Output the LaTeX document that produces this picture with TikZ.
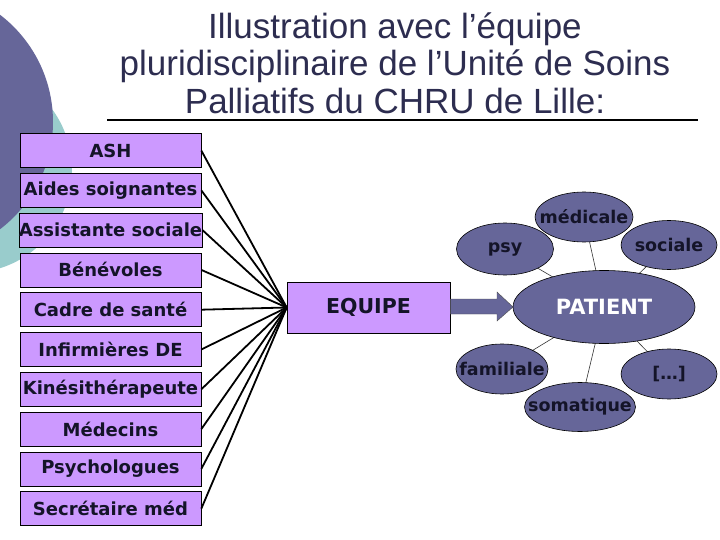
\documentclass[tikz,border=0pt]{standalone}
\usepackage{fontspec}
\setmainfont{Liberation Sans}
\newfontfamily\boxfont{DejaVu Sans}
\usetikzlibrary{shapes.geometric,backgrounds}
\definecolor{slate}{RGB}{102,102,153}
\definecolor{teal2}{RGB}{153,204,204}
\definecolor{lilac}{RGB}{204,153,255}
\definecolor{titlecol}{RGB}{45,45,80}
\definecolor{ink}{RGB}{20,20,40}
\newcommand{\zw}[1]{\makebox[0pt]{#1}}
\tikzset{
  rolebox/.style={draw=black, line width=0.6pt, fill=lilac, minimum width=181pt, minimum height=34pt, inner sep=0pt,
    font=\boxfont\bfseries\fontsize{18}{21}\selectfont, text=ink},
  link/.style={draw=black, line width=1.8pt},
  sat/.style={ellipse, draw=black, line width=0.6pt, fill=slate, inner sep=0pt,
    font=\boxfont\bfseries\fontsize{17.5}{20}\selectfont, text=ink},
  spoke/.style={draw=black!80, line width=0.6pt},
  titletext/.style={font=\fontsize{35}{37.5}\selectfont, text=titlecol, align=center}
}
\begin{document}
\begin{tikzpicture}[x=1pt,y=-1pt]
\useasboundingbox (0,0) rectangle (720,540);
\begin{scope}[on background layer]
\fill[white] (0,0) rectangle (720,540);
\end{scope}
% background circles
\fill[teal2] (-31,170) circle (103);
\fill[slate] (-82,122) circle (135);
% title
\node[titletext] (title) at (395,63) {Illustration avec l’équipe\\pluridisciplinaire de l’Unité de Soins\\Palliatifs du CHRU de Lille:};
\coordinate (ul1) at (107,120);
\coordinate (ul2) at (698,120);
\draw[line width=1.8pt] (ul1) -- (ul2);
% role boxes
\node[rolebox] (b1) at (110.5,150.5) {ASH};
\node[rolebox] (b2) at (110.5,190.3) {Aides soignantes};
\node[rolebox] (b3) at (110.5,230.1) {Assistante sociale};
\node[rolebox] (b4) at (110.5,269.9) {Bénévoles};
\node[rolebox] (b5) at (110.5,309.7) {Cadre de santé};
\node[rolebox] (b6) at (110.5,349.5) {Infirmières DE};
\node[rolebox] (b7) at (110.5,389.3) {Kinésithérapeute};
\node[rolebox] (b8) at (110.5,429.1) {Médecins};
\node[rolebox] (b9) at (110.5,468.9) {Psychologues};
\node[rolebox] (b10) at (110.5,508.7) {Secrétaire méd};
% equipe
\node[rolebox, minimum width=163pt, minimum height=51pt, font=\boxfont\bfseries\fontsize{20.5}{24}\selectfont] (eq) at (368.5,307.5) {EQUIPE};
\foreach \i in {1,...,10} { \draw[link] (b\i.east) -- (eq.west); }
% arrow
\fill[slate, draw=black!70, line width=0.4pt] (eq.east |- 0,299) -- (497,299) -- (497,292) -- (513,307) -- (497,321) -- (497,314) -- (eq.east |- 0,314) -- cycle;
% patient and satellites
\node[sat, minimum width=182pt, minimum height=73pt, text=white, font=\boxfont\bfseries\fontsize{21}{24}\selectfont] (pat) at (604,307) {\zw{PATIENT}};
\node[sat, minimum width=98pt, minimum height=50pt] (med) at (584,217) {\zw{médicale}};
\node[sat, minimum width=97pt, minimum height=52pt] (psy) at (505,249) {\zw{psy}};
\node[sat, minimum width=96pt, minimum height=49pt] (soc) at (669,245) {\zw{sociale}};
\node[sat, minimum width=92pt, minimum height=50pt] (fam) at (502,369) {\zw{familiale}};
\node[sat, minimum width=111pt, minimum height=49pt] (som) at (580,407) {\zw{somatique}};
\node[sat, minimum width=96pt, minimum height=50pt] (etc) at (669,374) {\zw{[…]}};
\begin{scope}[on background layer]
\foreach \s in {med,psy,soc,fam,som,etc} { \draw[spoke] (\s.center) -- (pat.center); }
\end{scope}
\end{tikzpicture}
\end{document}
